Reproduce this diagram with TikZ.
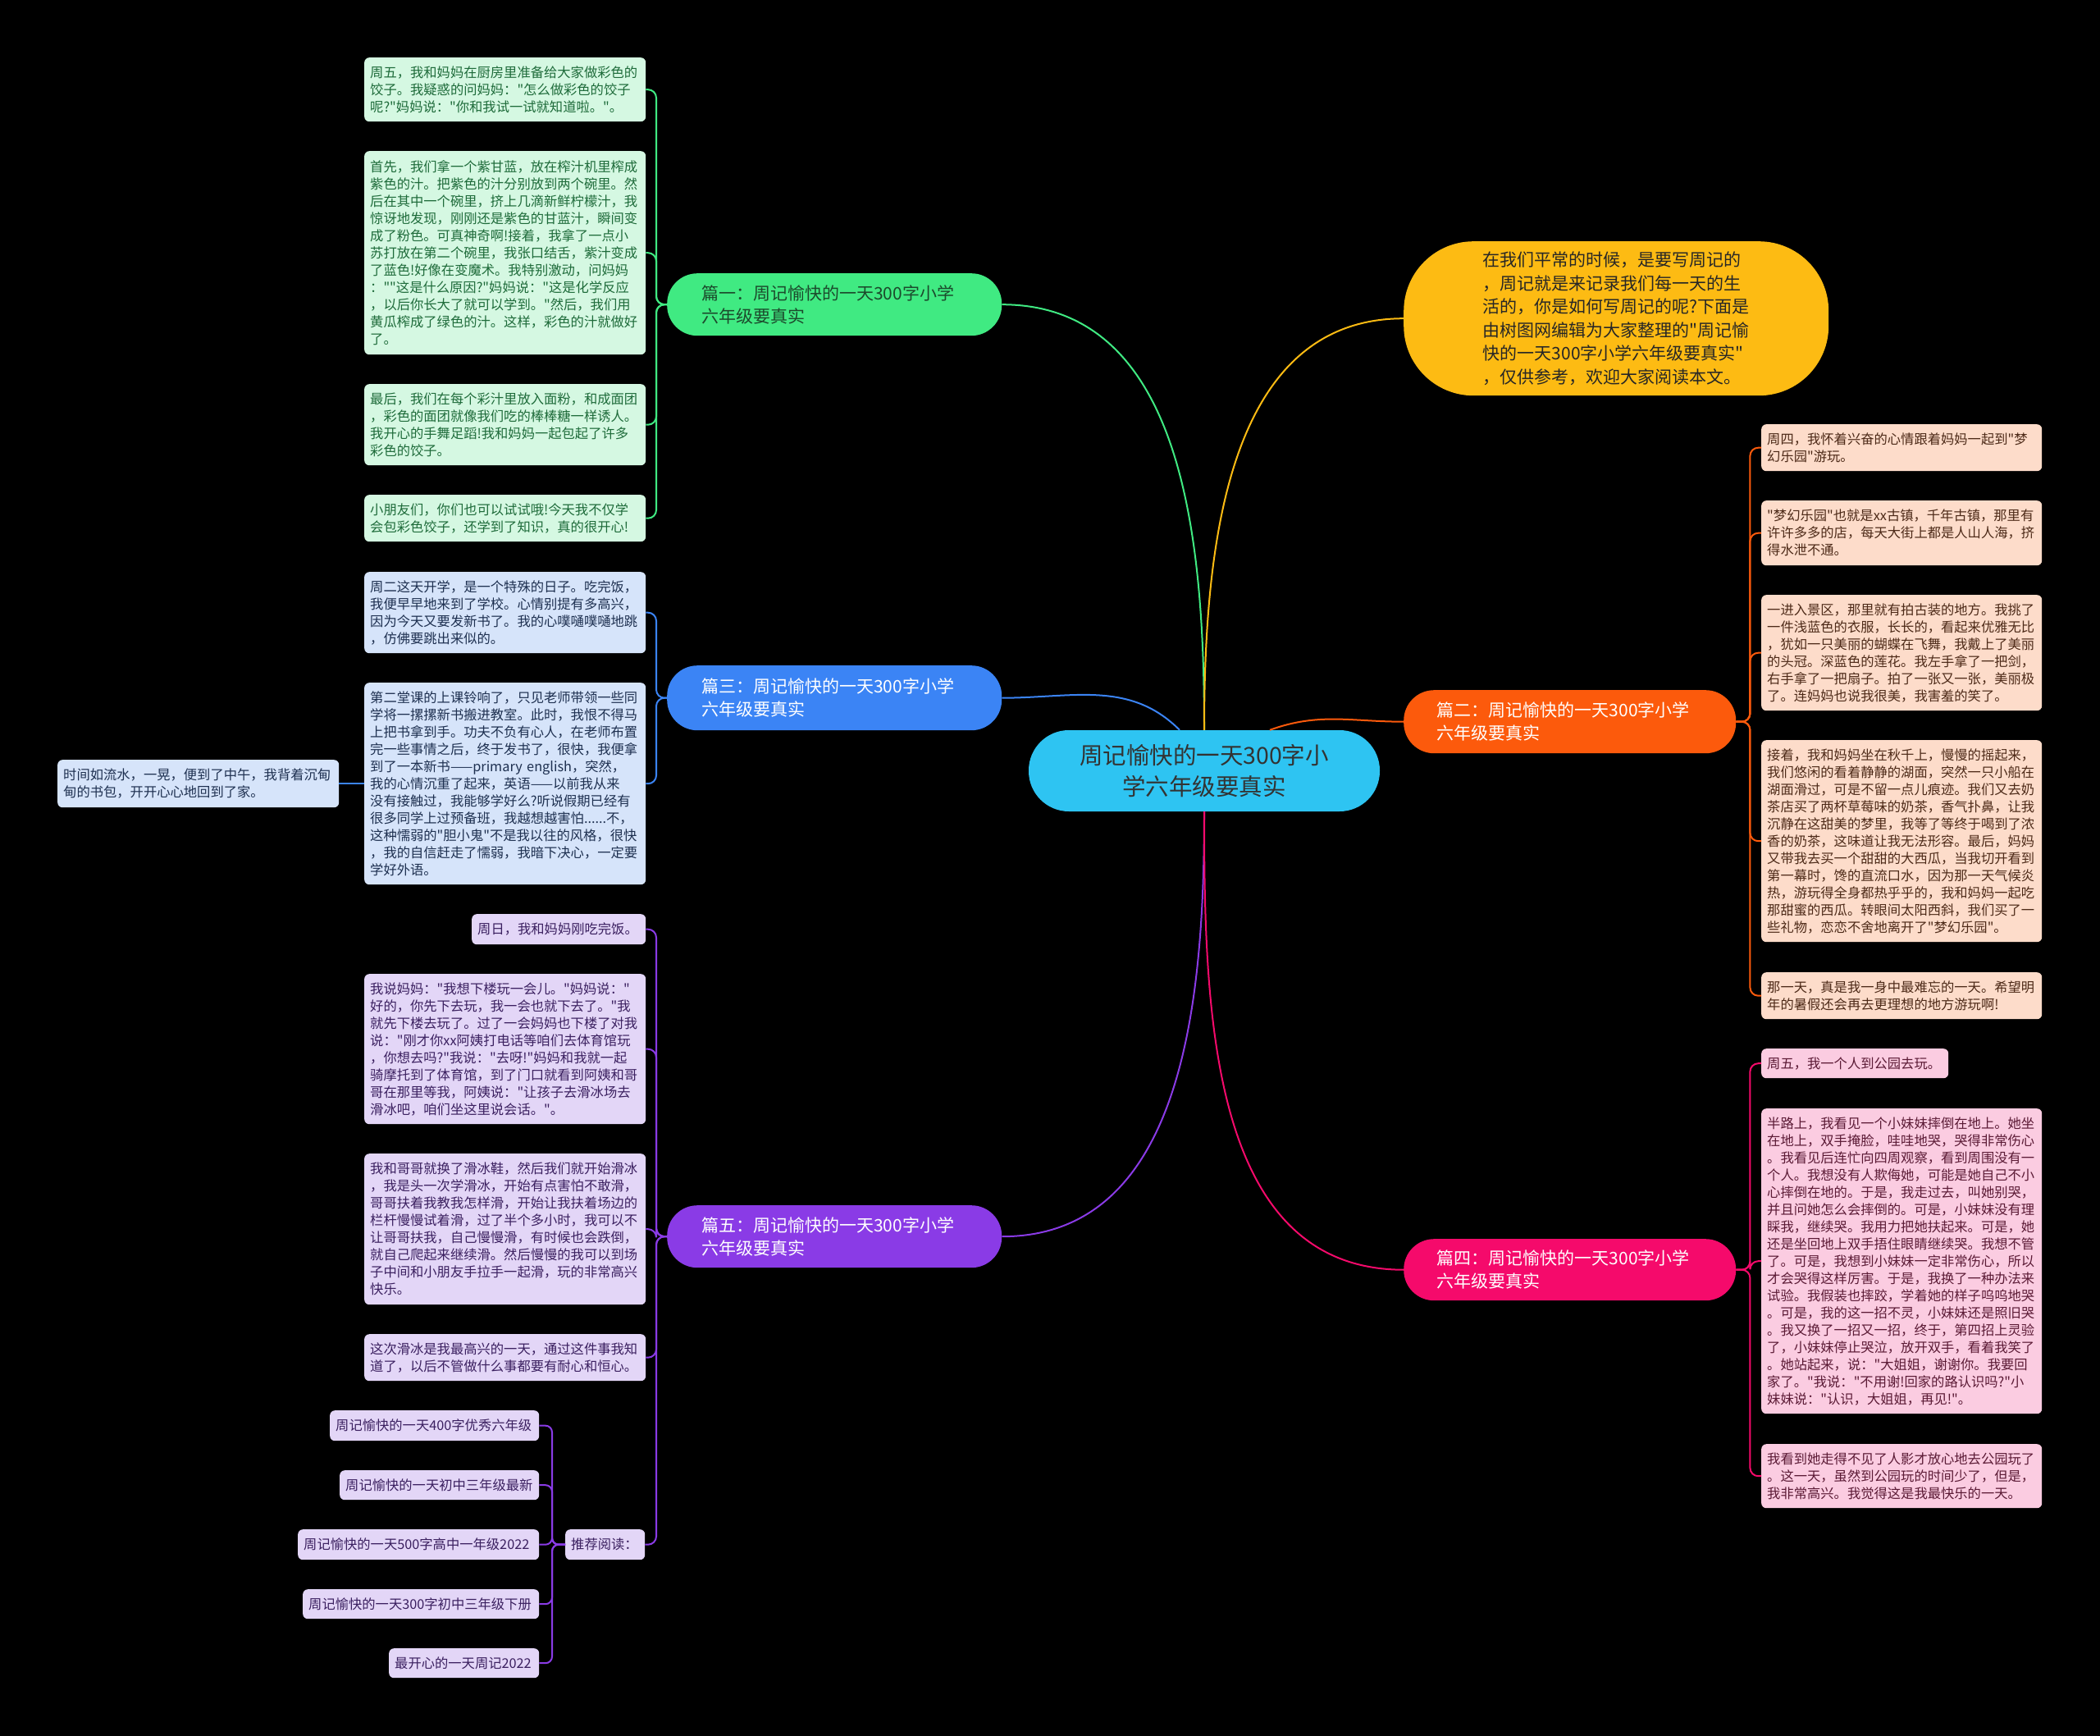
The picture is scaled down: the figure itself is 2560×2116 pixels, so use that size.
\documentclass[tikz,border=0pt]{standalone}
\usepackage{fontspec}
\newfontfamily\cjk{Noto Sans CJK SC}
\usetikzlibrary{calc}
\definecolor{cCenter}{HTML}{2EC4F2}
\definecolor{cYellow}{HTML}{FDBB13}
\definecolor{cGreen}{HTML}{40EA82}
\definecolor{cGreenText}{HTML}{1C4A2C}
\definecolor{cBlue}{HTML}{3B84F5}
\definecolor{cPurple}{HTML}{8A3BE6}
\definecolor{cOrange}{HTML}{FC5A0C}
\definecolor{cPink}{HTML}{F50A6B}
\definecolor{gLeaf}{HTML}{D5F8E2}
\definecolor{gText}{HTML}{1E6B3A}
\definecolor{bLeaf}{HTML}{D6E4FA}
\definecolor{bText}{HTML}{1E3050}
\definecolor{uLeaf}{HTML}{E3D6F7}
\definecolor{uText}{HTML}{3B2060}
\definecolor{oLeaf}{HTML}{FDDCCA}
\definecolor{oText}{HTML}{4D2A18}
\definecolor{kLeaf}{HTML}{FBCCE1}
\definecolor{kText}{HTML}{5B1A35}
\begin{document}
\cjk
\begin{tikzpicture}[x=1pt,y=1pt,
  leaf/.style={rounded corners=6, inner xsep=7, inner ysep=3, align=left, anchor=north west, font=\cjk\fontsize{16.3}{21}\selectfont},
  lw/.style={text width=#1pt, minimum width=#1pt+14pt},
  gleaf/.style={leaf, fill=gLeaf, text=gText},
  bleaf/.style={leaf, fill=bLeaf, text=bText},
  uleaf/.style={leaf, fill=uLeaf, text=uText},
  oleaf/.style={leaf, fill=oLeaf, text=oText},
  kleaf/.style={leaf, fill=kLeaf, text=kText},
  branch/.style={rounded corners=37, align=left, anchor=north west, text width=324, minimum width=408, minimum height=76, inner sep=0, font=\cjk\fontsize{21}{28}\selectfont},
  mainline/.style={line width=2},
  bus/.style={line width=2, rounded corners=10},
]
\fill[black] (0,0) rectangle (2560,-2116);

% center
\node[fill=cCenter, text=black!80, rounded corners=49, minimum width=428, minimum height=99, align=center, font=\cjk\fontsize{28.5}{38}\selectfont] (c) at (1468,-939.5) {周记愉快的一天300字小\\学六年级要真实};

% intro
\node[fill=cYellow, text=black!85, rounded corners=85, minimum width=518, minimum height=188, anchor=north west, align=left, font=\cjk\fontsize{21}{28.5}\selectfont] (yl) at (1711,-294) {在我们平常的时候，是要写周记的\\，周记就是来记录我们每一天的生\\活的，你是如何写周记的呢?下面是\\由树图网编辑为大家整理的"周记愉\\快的一天300字小学六年级要真实"\\，仅供参考，欢迎大家阅读本文。};

% branches
\node[branch, fill=cGreen, text=cGreenText] (p1) at (813,-333) {篇一：周记愉快的一天300字小学\\六年级要真实};
\node[branch, fill=cBlue, text=white, minimum height=79] (p3) at (813,-811) {篇三：周记愉快的一天300字小学\\六年级要真实};
\node[branch, fill=cPurple, text=white] (p5) at (813,-1469) {篇五：周记愉快的一天300字小学\\六年级要真实};
\node[branch, fill=cOrange, text=white, minimum width=405, minimum height=77] (p2) at (1711,-841) {篇二：周记愉快的一天300字小学\\六年级要真实};
\node[branch, fill=cPink, text=white, minimum width=405, minimum height=75] (p4) at (1711,-1510) {篇四：周记愉快的一天300字小学\\六年级要真实};

% main connectors
\draw[mainline, cGreen] (c.north) to[out=90,in=0] (p1.east);
\draw[mainline, cYellow] (c.north) to[out=90,in=180] (yl.west);
\draw[mainline, cBlue] ($(c.north)+(-30,0)$) to[out=135,in=0] (p3.east);
\draw[mainline, cOrange] ($(c.north)+(80,0)$) to[out=20,in=180] (p2.west);
\draw[mainline, cPurple] (c.south) to[out=-90,in=0] (p5.east);
\draw[mainline, cPink] (c.south) to[out=-90,in=180] (p4.west);

% green leaves
\node[gleaf, lw=329, minimum height=78] (g1) at (444,-70) {周五，我和妈妈在厨房里准备给大家做彩色的\\饺子。我疑惑的问妈妈："怎么做彩色的饺子\\呢?"妈妈说："你和我试一试就知道啦。"。};
\node[gleaf, lw=329, minimum height=248] (g2) at (444,-184) {首先，我们拿一个紫甘蓝，放在榨汁机里榨成\\紫色的汁。把紫色的汁分别放到两个碗里。然\\后在其中一个碗里，挤上几滴新鲜柠檬汁，我\\惊讶地发现，刚刚还是紫色的甘蓝汁，瞬间变\\成了粉色。可真神奇啊!接着，我拿了一点小\\苏打放在第二个碗里，我张口结舌，紫汁变成\\了蓝色!好像在变魔术。我特别激动，问妈妈\\：""这是什么原因?"妈妈说："这是化学反应\\，以后你长大了就可以学到。"然后，我们用\\黄瓜榨成了绿色的汁。这样，彩色的汁就做好\\了。};
\node[gleaf, lw=329, minimum height=99] (g3) at (444,-468) {最后，我们在每个彩汁里放入面粉，和成面团\\，彩色的面团就像我们吃的棒棒糖一样诱人。\\我开心的手舞足蹈!我和妈妈一起包起了许多\\彩色的饺子。};
\node[gleaf, lw=329, minimum height=57] (g4) at (444,-603) {小朋友们，你们也可以试试哦!今天我不仅学\\会包彩色饺子，还学到了知识，真的很开心!};
\foreach \n in {g1,g2,g3,g4} \draw[bus, cGreen] (p1.west) -- ++(-13,0) |- (\n.east);

% blue leaves
\node[bleaf, lw=329, minimum height=99] (b1) at (444,-697) {周二这天开学，是一个特殊的日子。吃完饭，\\我便早早地来到了学校。心情别提有多高兴，\\因为今天又要发新书了。我的心噗嗵噗嗵地跳\\，仿佛要跳出来似的。};
\node[bleaf, lw=329, minimum height=246] (b2) at (444,-832) {第二堂课的上课铃响了，只见老师带领一些同\\学将一摞摞新书搬进教室。此时，我恨不得马\\上把书拿到手。功夫不负有心人，在老师布置\\完一些事情之后，终于发书了，很快，我便拿\\到了一本新书——primary english，突然，\\我的心情沉重了起来，英语——以前我从来\\没有接触过，我能够学好么?听说假期已经有\\很多同学上过预备班，我越想越害怕......不，\\这种懦弱的"胆小鬼"不是我以往的风格，很快\\，我的自信赶走了懦弱，我暗下决心，一定要\\学好外语。};
\node[bleaf, lw=329, minimum height=58] (fl) at (70,-926) {时间如流水，一晃，便到了中午，我背着沉甸\\甸的书包，开开心心地回到了家。};
\foreach \n in {b1,b2} \draw[bus, cBlue] (p3.west) -- ++(-13,0) |- (\n.east);
\draw[line width=2, cBlue] (b2.west) -- (fl.east);

% purple leaves
\node[uleaf, lw=198, minimum height=37] (u1) at (575,-1114) {周日，我和妈妈刚吃完饭。};
\node[uleaf, lw=329, minimum height=183] (u2) at (444,-1187) {我说妈妈："我想下楼玩一会儿。"妈妈说："\\好的，你先下去玩，我一会也就下去了。"我\\就先下楼去玩了。过了一会妈妈也下楼了对我\\说："刚才你xx阿姨打电话等咱们去体育馆玩\\，你想去吗?"我说："去呀!"妈妈和我就一起\\骑摩托到了体育馆，到了门口就看到阿姨和哥\\哥在那里等我，阿姨说："让孩子去滑冰场去\\滑冰吧，咱们坐这里说会话。"。};
\node[uleaf, lw=329, minimum height=184] (u3) at (444,-1406) {我和哥哥就换了滑冰鞋，然后我们就开始滑冰\\，我是头一次学滑冰，开始有点害怕不敢滑，\\哥哥扶着我教我怎样滑，开始让我扶着场边的\\栏杆慢慢试着滑，过了半个多小时，我可以不\\让哥哥扶我，自己慢慢滑，有时候也会跌倒，\\就自己爬起来继续滑。然后慢慢的我可以到场\\子中间和小朋友手拉手一起滑，玩的非常高兴\\快乐。};
\node[uleaf, lw=329, minimum height=57] (u4) at (444,-1626) {这次滑冰是我最高兴的一天，通过这件事我知\\道了，以后不管做什么事都要有耐心和恒心。};
\node[uleaf, lw=83, minimum height=37] (rec) at (689,-1864) {推荐阅读：};
\foreach \n in {u1,u2,u3,u4,rec} \draw[bus, cPurple] (p5.west) -- ++(-13,0) |- (\n.east);

\node[uleaf, lw=241, minimum height=37] (r1) at (402,-1719) {周记愉快的一天400字优秀六年级};
\node[uleaf, lw=229, minimum height=36] (r2) at (414,-1792) {周记愉快的一天初中三年级最新};
\node[uleaf, lw=280, minimum height=37] (r3) at (363,-1864) {周记愉快的一天500字高中一年级2022};
\node[uleaf, lw=274, minimum height=36] (r4) at (369,-1937) {周记愉快的一天300字初中三年级下册};
\node[uleaf, lw=169, minimum height=36] (r5) at (474,-2009) {最开心的一天周记2022};
\foreach \n in {r1,r2,r3,r4,r5} \draw[bus, cPurple, rounded corners=8] (rec.west) -- ++(-16,0) |- (\n.east);

% orange leaves
\node[oleaf, lw=328, minimum height=57] (o1) at (2147,-517) {周四，我怀着兴奋的心情跟着妈妈一起到"梦\\幻乐园"游玩。};
\node[oleaf, lw=328, minimum height=79] (o2) at (2147,-610) {"梦幻乐园"也就是xx古镇，千年古镇，那里有\\许许多多的店，每天大街上都是人山人海，挤\\得水泄不通。};
\node[oleaf, lw=328, minimum height=141] (o3) at (2147,-725) {一进入景区，那里就有拍古装的地方。我挑了\\一件浅蓝色的衣服，长长的，看起来优雅无比\\，犹如一只美丽的蝴蝶在飞舞，我戴上了美丽\\的头冠。深蓝色的莲花。我左手拿了一把剑，\\右手拿了一把扇子。拍了一张又一张，美丽极\\了。连妈妈也说我很美，我害羞的笑了。};
\node[oleaf, lw=328, minimum height=246] (o4) at (2147,-902) {接着，我和妈妈坐在秋千上，慢慢的摇起来，\\我们悠闲的看着静静的湖面，突然一只小船在\\湖面滑过，可是不留一点儿痕迹。我们又去奶\\茶店买了两杯草莓味的奶茶，香气扑鼻，让我\\沉静在这甜美的梦里，我等了等终于喝到了浓\\香的奶茶，这味道让我无法形容。最后，妈妈\\又带我去买一个甜甜的大西瓜，当我切开看到\\第一幕时，馋的直流口水，因为那一天气候炎\\热，游玩得全身都热乎乎的，我和妈妈一起吃\\那甜蜜的西瓜。转眼间太阳西斜，我们买了一\\些礼物，恋恋不舍地离开了"梦幻乐园"。};
\node[oleaf, lw=328, minimum height=57] (o5) at (2147,-1185) {那一天，真是我一身中最难忘的一天。希望明\\年的暑假还会再去更理想的地方游玩啊!};
\foreach \n in {o1,o2,o3,o4,o5} \draw[bus, cOrange] (p2.east) -- ++(17,0) |- (\n.west);

% pink leaves
\node[kleaf, lw=214, minimum height=36] (k1) at (2147,-1278) {周五，我一个人到公园去玩。};
\node[kleaf, lw=328, minimum height=372] (k2) at (2147,-1351) {半路上，我看见一个小妹妹摔倒在地上。她坐\\在地上，双手掩脸，哇哇地哭，哭得非常伤心\\。我看见后连忙向四周观察，看到周围没有一\\个人。我想没有人欺侮她，可能是她自己不小\\心摔倒在地的。于是，我走过去，叫她别哭，\\并且问她怎么会摔倒的。可是，小妹妹没有理\\睬我，继续哭。我用力把她扶起来。可是，她\\还是坐回地上双手捂住眼睛继续哭。我想不管\\了。可是，我想到小妹妹一定非常伤心，所以\\才会哭得这样厉害。于是，我换了一种办法来\\试验。我假装也摔跤，学着她的样子呜呜地哭\\。可是，我的这一招不灵，小妹妹还是照旧哭\\。我又换了一招又一招，终于，第四招上灵验\\了，小妹妹停止哭泣，放开双手，看着我笑了\\。她站起来，说："大姐姐，谢谢你。我要回\\家了。"我说："不用谢!回家的路认识吗?"小\\妹妹说："认识，大姐姐，再见!"。};
\node[kleaf, lw=328, minimum height=78] (k3) at (2147,-1760) {我看到她走得不见了人影才放心地去公园玩了\\。这一天，虽然到公园玩的时间少了，但是，\\我非常高兴。我觉得这是我最快乐的一天。};
\foreach \n in {k1,k2,k3} \draw[bus, cPink] (p4.east) -- ++(17,0) |- (\n.west);
\end{tikzpicture}
\end{document}
